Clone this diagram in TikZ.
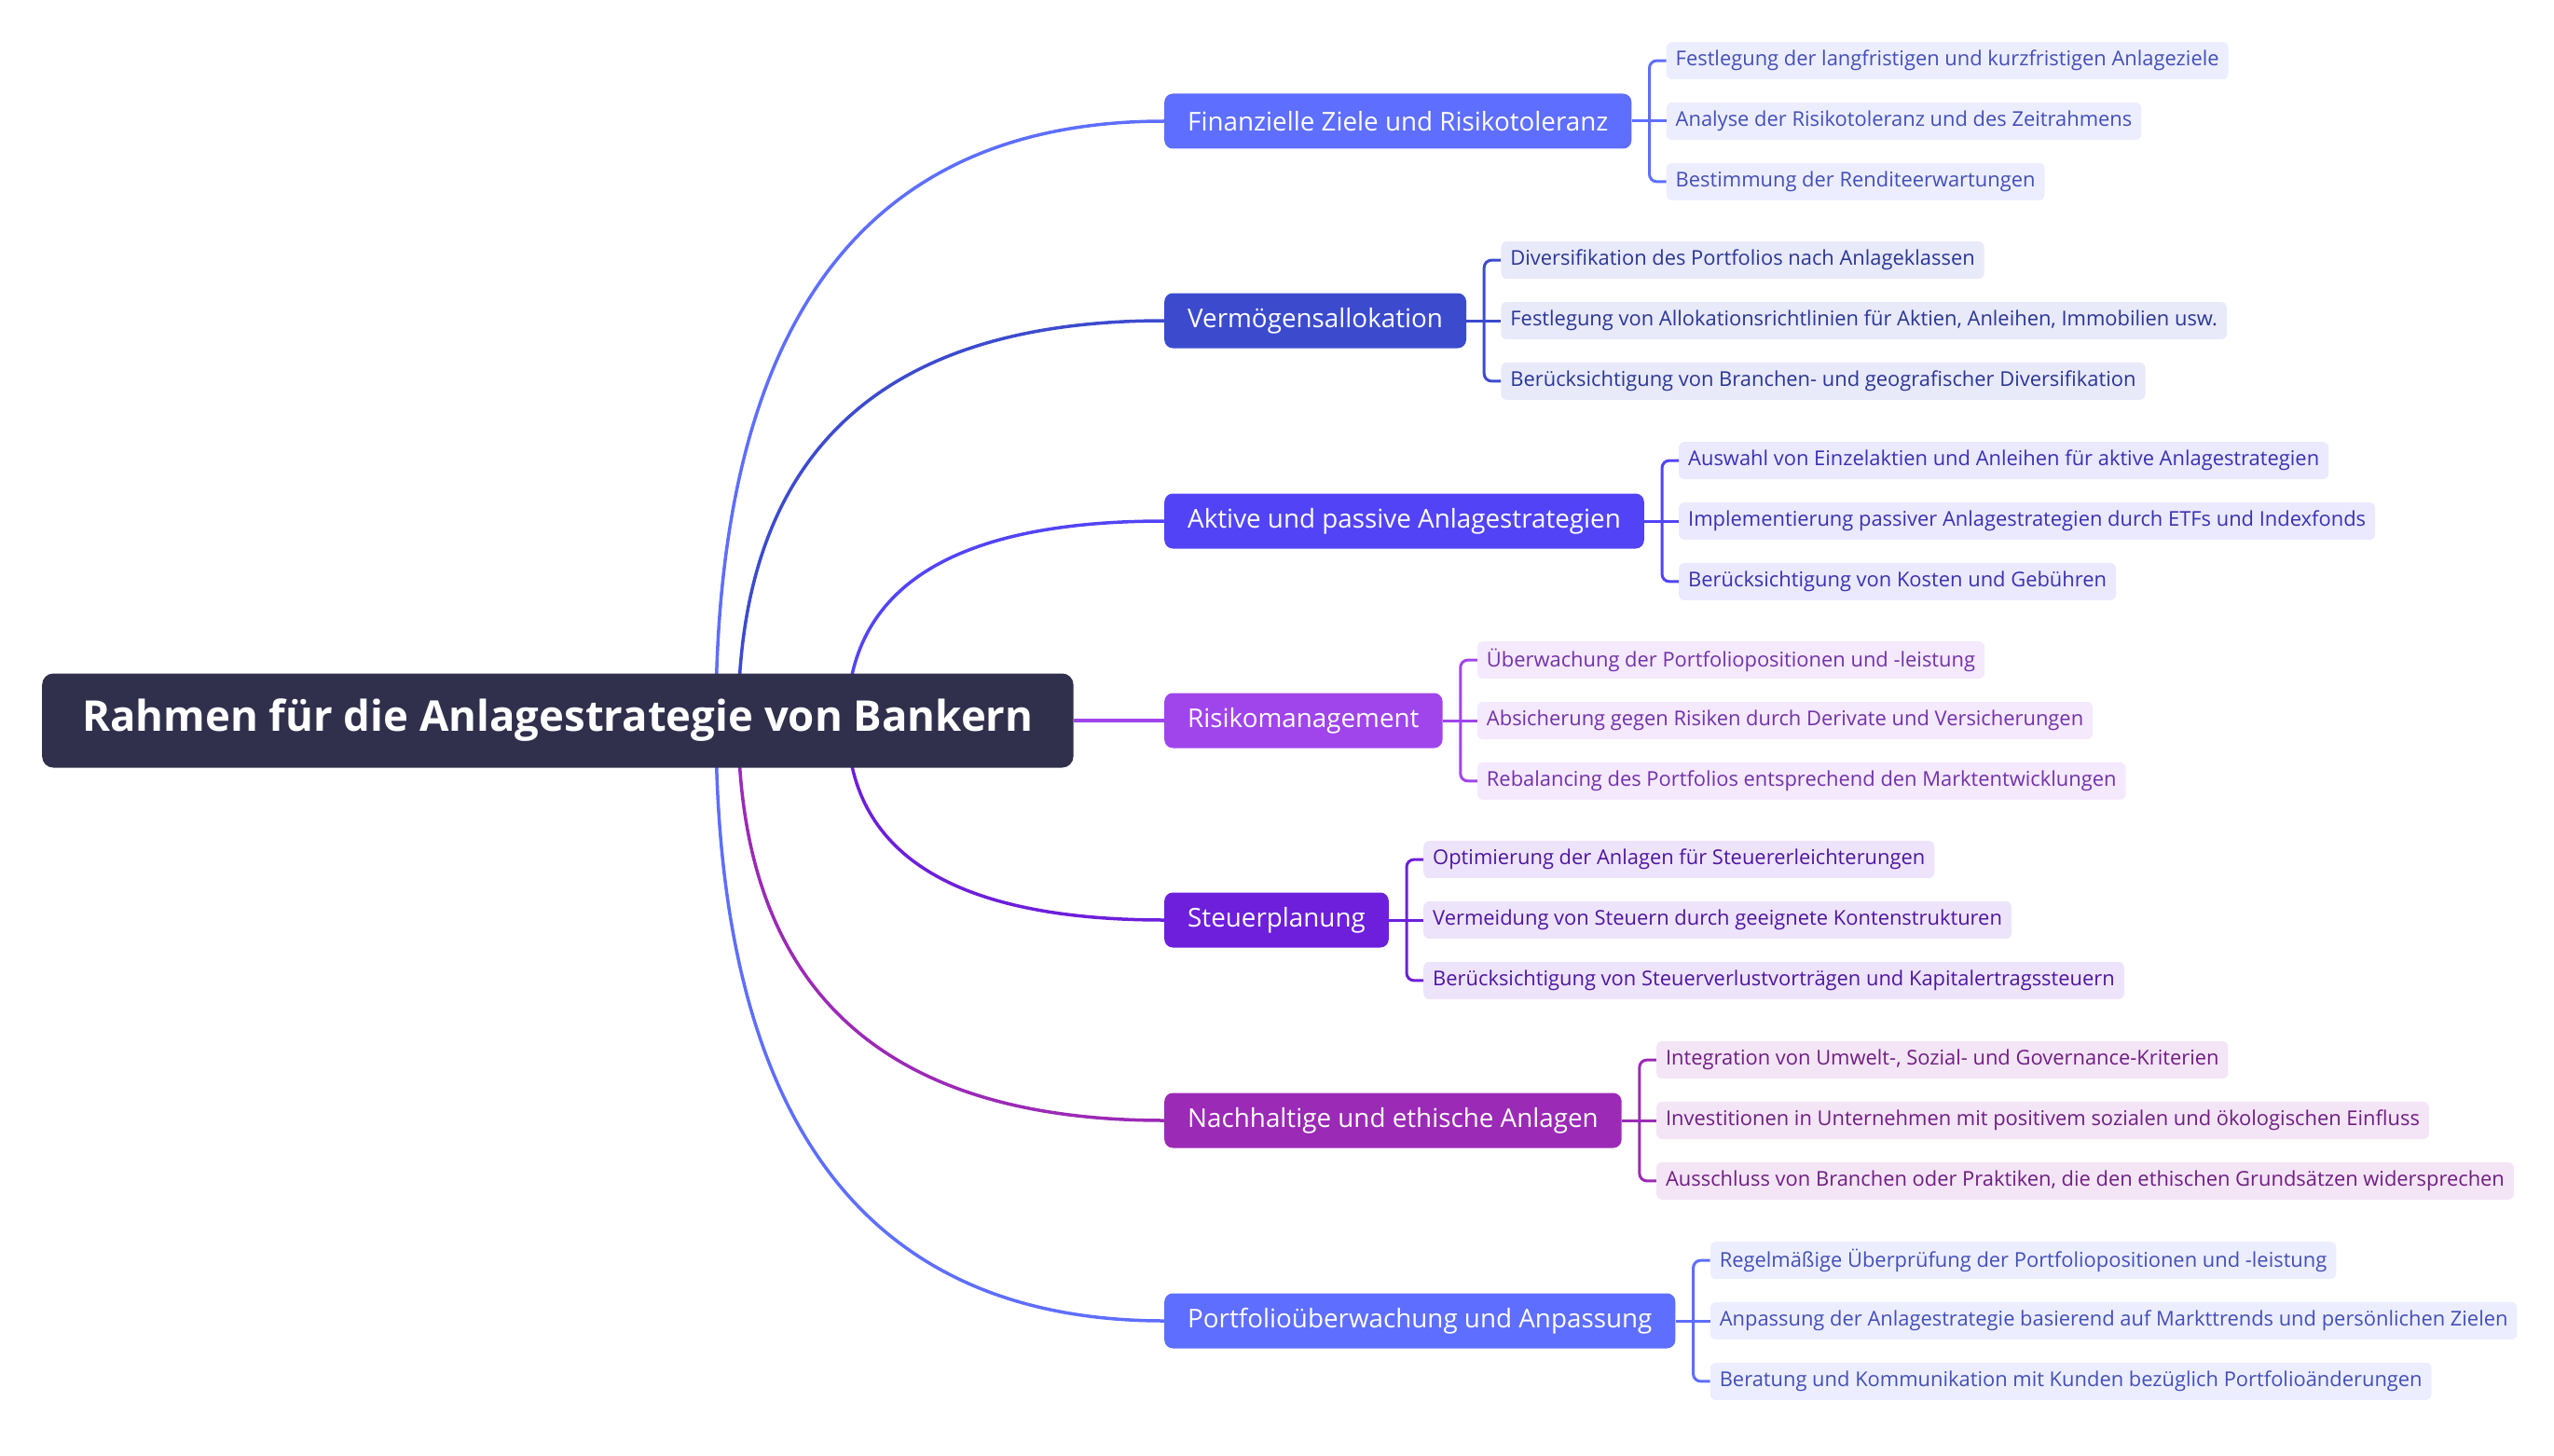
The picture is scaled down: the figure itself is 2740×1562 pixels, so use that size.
\documentclass[tikz,border=0pt]{standalone}
\usepackage{fontspec}
\setmainfont{Open Sans}
\usepackage{xcolor}
\usepackage{tikz}
\usetikzlibrary{positioning,calc,backgrounds}
\definecolor{rootnavy}{HTML}{302F4C}
\definecolor{cornflower}{HTML}{5E6EFE}
\definecolor{royal}{HTML}{3C4BCE}
\definecolor{iris}{HTML}{5244F6}
\definecolor{orchid}{HTML}{A045EB}
\definecolor{grape}{HTML}{6D1FDB}
\definecolor{mauve}{HTML}{9B2AB6}
\tikzset{
  rootbox/.style={rectangle, rounded corners=12pt, fill=rootnavy, text=white,
                  font=\fontsize{45.5}{54}\selectfont\bfseries, inner xsep=43pt,
                  minimum height=101pt, anchor=west},
  topic/.style={rectangle, rounded corners=9pt, fill=#1, text=white,
                font=\fontsize{27.8}{33}\selectfont, inner xsep=25pt,
                minimum height=59pt, anchor=west},
  leaf/.style={rectangle, rounded corners=6pt, fill=#1!12, text=#1!72!black,
               font=\fontsize{21.9}{26}\selectfont, inner xsep=10pt,
               minimum height=40pt},
  qcurve/.style={to path={.. controls ($(\tikztostart)!2/3!(\tikztostart|-\tikztotarget)$)
                 and ($(\tikztotarget)!2/3!(\tikztostart|-\tikztotarget)$) .. (\tikztotarget)}},
  trunk/.style={draw=#1, line width=3.5pt, qcurve},
  twig/.style={draw=#1, line width=3pt, rounded corners=8pt},
}

\begin{document}
\begin{tikzpicture}[x=1pt,y=1pt]
  \useasboundingbox (0,0) rectangle (2740,-1562);

  % root
  \node[rootbox] (root) at (45,-773) {Rahmen für die Anlagestrategie von Bankern};

  % topics
  \node[topic=cornflower] (t1) at (1249,-130)  {Finanzielle Ziele und Risikotoleranz};
  \node[topic=royal]      (t2) at (1249,-344)  {Vermögensallokation};
  \node[topic=iris]       (t3) at (1249,-559)  {Aktive und passive Anlagestrategien};
  \node[topic=orchid]     (t4) at (1249,-773)  {Risikomanagement};
  \node[topic=grape]      (t5) at (1249,-987)  {Steuerplanung};
  \node[topic=mauve]      (t6) at (1249,-1202) {Nachhaltige und ethische Anlagen};
  \node[topic=cornflower] (t7) at (1249,-1417) {Portfolioüberwachung und Anpassung};

  % leaves of t1
  \node[leaf=cornflower, right=37pt of t1] (l12) {Analyse der Risikotoleranz und des Zeitrahmens};
  \node[leaf=cornflower, above right=24.5pt and 0pt of l12.north west] (l11) {Festlegung der langfristigen und kurzfristigen Anlageziele};
  \node[leaf=cornflower, below right=24.5pt and 0pt of l12.south west] (l13) {Bestimmung der Renditeerwartungen};
  \coordinate[right=19pt of t1] (j1);
  \draw[twig=cornflower] (t1) -- (l12);
  \draw[twig=cornflower] (l11.west) -| (j1) |- (l13.west);

  % leaves of t2
  \node[leaf=royal, right=37pt of t2] (l22) {Festlegung von Allokationsrichtlinien für Aktien, Anleihen, Immobilien usw.};
  \node[leaf=royal, above right=24.5pt and 0pt of l22.north west] (l21) {Diversifikation des Portfolios nach Anlageklassen};
  \node[leaf=royal, below right=24.5pt and 0pt of l22.south west] (l23) {Berücksichtigung von Branchen- und geografischer Diversifikation};
  \coordinate[right=19pt of t2] (j2);
  \draw[twig=royal] (t2) -- (l22);
  \draw[twig=royal] (l21.west) -| (j2) |- (l23.west);

  % leaves of t3
  \node[leaf=iris, right=37pt of t3] (l32) {Implementierung passiver Anlagestrategien durch ETFs und Indexfonds};
  \node[leaf=iris, above right=24.5pt and 0pt of l32.north west] (l31) {Auswahl von Einzelaktien und Anleihen für aktive Anlagestrategien};
  \node[leaf=iris, below right=24.5pt and 0pt of l32.south west] (l33) {Berücksichtigung von Kosten und Gebühren};
  \coordinate[right=19pt of t3] (j3);
  \draw[twig=iris] (t3) -- (l32);
  \draw[twig=iris] (l31.west) -| (j3) |- (l33.west);

  % leaves of t4
  \node[leaf=orchid, right=37pt of t4] (l42) {Absicherung gegen Risiken durch Derivate und Versicherungen};
  \node[leaf=orchid, above right=24.5pt and 0pt of l42.north west] (l41) {Überwachung der Portfoliopositionen und -leistung};
  \node[leaf=orchid, below right=24.5pt and 0pt of l42.south west] (l43) {Rebalancing des Portfolios entsprechend den Marktentwicklungen};
  \coordinate[right=19pt of t4] (j4);
  \draw[twig=orchid] (t4) -- (l42);
  \draw[twig=orchid] (l41.west) -| (j4) |- (l43.west);

  % leaves of t5
  \node[leaf=grape, right=37pt of t5] (l52) {Vermeidung von Steuern durch geeignete Kontenstrukturen};
  \node[leaf=grape, above right=24.5pt and 0pt of l52.north west] (l51) {Optimierung der Anlagen für Steuererleichterungen};
  \node[leaf=grape, below right=24.5pt and 0pt of l52.south west] (l53) {Berücksichtigung von Steuerverlustvorträgen und Kapitalertragssteuern};
  \coordinate[right=19pt of t5] (j5);
  \draw[twig=grape] (t5) -- (l52);
  \draw[twig=grape] (l51.west) -| (j5) |- (l53.west);

  % leaves of t6
  \node[leaf=mauve, right=37pt of t6] (l62) {Investitionen in Unternehmen mit positivem sozialen und ökologischen Einfluss};
  \node[leaf=mauve, above right=24.5pt and 0pt of l62.north west] (l61) {Integration von Umwelt-, Sozial- und Governance-Kriterien};
  \node[leaf=mauve, below right=24.5pt and 0pt of l62.south west] (l63) {Ausschluss von Branchen oder Praktiken, die den ethischen Grundsätzen widersprechen};
  \coordinate[right=19pt of t6] (j6);
  \draw[twig=mauve] (t6) -- (l62);
  \draw[twig=mauve] (l61.west) -| (j6) |- (l63.west);

  % leaves of t7
  \node[leaf=cornflower, right=37pt of t7] (l72) {Anpassung der Anlagestrategie basierend auf Markttrends und persönlichen Zielen};
  \node[leaf=cornflower, above right=24.5pt and 0pt of l72.north west] (l71) {Regelmäßige Überprüfung der Portfoliopositionen und -leistung};
  \node[leaf=cornflower, below right=24.5pt and 0pt of l72.south west] (l73) {Beratung und Kommunikation mit Kunden bezüglich Portfolioänderungen};
  \coordinate[right=19pt of t7] (j7);
  \draw[twig=cornflower] (t7) -- (l72);
  \draw[twig=cornflower] (l71.west) -| (j7) |- (l73.west);

  % trunks, behind the root
  \begin{scope}[on background layer]
    \coordinate (s1) at ($(root.west)+(723,0)$);
    \coordinate (s2) at ($(root.west)+(747,0)$);
    \coordinate (s3) at ($(root.west)+(864,0)$);
    \draw[trunk=cornflower] (s1) to (t1.west);
    \draw[trunk=royal]      (s2) to (t2.west);
    \draw[trunk=iris]       (s3) to (t3.west);
    \draw[trunk=orchid]     (root.east) -- (t4.west);
    \draw[trunk=grape]      (s3) to (t5.west);
    \draw[trunk=mauve]      (s2) to (t6.west);
    \draw[trunk=cornflower] (s1) to (t7.west);
  \end{scope}
\end{tikzpicture}
\end{document}
